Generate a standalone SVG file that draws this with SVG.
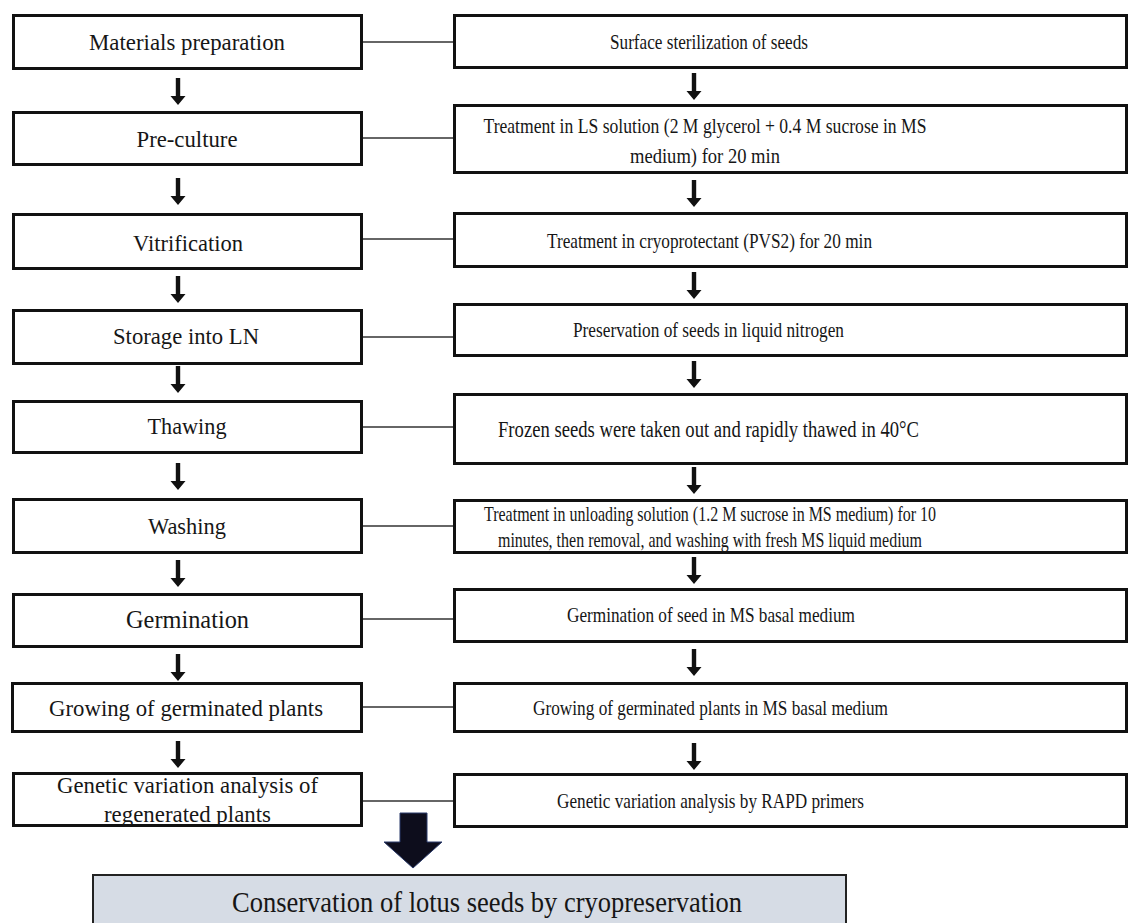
<svg xmlns="http://www.w3.org/2000/svg" width="1131" height="923" viewBox="0 0 1131 923">
<style>
.box{fill:#fff;stroke:#111;stroke-width:3}
.t{font-family:'Liberation Serif','Times New Roman',serif;font-size:22px;fill:#161616;text-anchor:middle}
.l{font-size:23px}
.g{font-size:24.5px}
.f{font-size:24px}
.c{font-size:29px}
.link{stroke:#333;stroke-width:1.3;fill:none}
.arr{fill:#111}
</style>
<defs>
<path id="arrow" d="M-2.2,0 H2.2 V18 H7.5 L0,27 L-7.5,18 H-2.2 Z"/>
</defs>
<rect width="1131" height="923" fill="#fff"/>
<g id="connectors">
<line class="link" x1="363" y1="42" x2="453" y2="42"/>
<line class="link" x1="363" y1="138" x2="453" y2="138"/>
<line class="link" x1="363" y1="239" x2="453" y2="239"/>
<line class="link" x1="363" y1="337" x2="453" y2="337"/>
<line class="link" x1="363" y1="427" x2="453" y2="427"/>
<line class="link" x1="363" y1="526" x2="453" y2="526"/>
<line class="link" x1="363" y1="619" x2="453" y2="619"/>
<line class="link" x1="363" y1="707" x2="453" y2="707"/>
<line class="link" x1="363" y1="801" x2="453" y2="801"/>
<g class="arr">
<use href="#arrow" x="178" y="78"/>
<use href="#arrow" x="178" y="178"/>
<use href="#arrow" x="178" y="276"/>
<use href="#arrow" x="178" y="366"/>
<use href="#arrow" x="178" y="463"/>
<use href="#arrow" x="178" y="560"/>
<use href="#arrow" x="178" y="654"/>
<use href="#arrow" x="178" y="741"/>
<use href="#arrow" x="694" y="73"/>
<use href="#arrow" x="694" y="180"/>
<use href="#arrow" x="694" y="272"/>
<use href="#arrow" x="694" y="361"/>
<use href="#arrow" x="694" y="467"/>
<use href="#arrow" x="694" y="557"/>
<use href="#arrow" x="694" y="649"/>
<use href="#arrow" x="694" y="743"/>
</g>
<path d="M400,813 H427 V842 H442 L413,868 L384,842 H400 Z" fill="#0d0d1c" stroke="#2a3a6a" stroke-width="1"/>
</g>
<g id="n_materials"><rect class="box" x="13.5" y="15.5" width="348" height="53"/><text class="t l" x="187" y="50" textLength="196" lengthAdjust="spacingAndGlyphs">Materials preparation</text></g>
<g id="n_preculture"><rect class="box" x="13.5" y="112.5" width="348" height="52"/><text class="t l" x="187" y="147" textLength="101" lengthAdjust="spacingAndGlyphs">Pre-culture</text></g>
<g id="n_vitrification"><rect class="box" x="13.5" y="214.5" width="348" height="54"/><text class="t l" x="188" y="251" textLength="110" lengthAdjust="spacingAndGlyphs">Vitrification</text></g>
<g id="n_storage"><rect class="box" x="13.5" y="310.5" width="348" height="53"/><text class="t l" x="186" y="344" textLength="146" lengthAdjust="spacingAndGlyphs">Storage into LN</text></g>
<g id="n_thawing"><rect class="box" x="13.5" y="401.5" width="348" height="51"/><text class="t l" x="187" y="434" textLength="79" lengthAdjust="spacingAndGlyphs">Thawing</text></g>
<g id="n_washing"><rect class="box" x="13.5" y="499.5" width="348" height="53"/><text class="t l" x="187" y="534" textLength="78" lengthAdjust="spacingAndGlyphs">Washing</text></g>
<g id="n_germination"><rect class="box" x="13.5" y="594.5" width="348" height="52"/><text class="t g" x="187.5" y="628" textLength="123" lengthAdjust="spacingAndGlyphs">Germination</text></g>
<g id="n_growing"><rect class="box" x="12.5" y="683.5" width="349" height="48"/><text class="t l" x="186" y="716" textLength="274" lengthAdjust="spacingAndGlyphs">Growing of germinated plants</text></g>
<g id="n_genetic"><rect class="box" x="13.5" y="773.5" width="348" height="52"/><text class="t l" x="187.5" y="793" textLength="261" lengthAdjust="spacingAndGlyphs">Genetic variation analysis of</text><text class="t l" x="187.5" y="822" textLength="167" lengthAdjust="spacingAndGlyphs">regenerated plants</text></g>
<g id="r_surface"><rect class="box" x="454.5" y="15.5" width="672" height="52"/><text class="t" x="709" y="49" textLength="198" lengthAdjust="spacingAndGlyphs">Surface sterilization of seeds</text></g>
<g id="r_ls"><rect class="box" x="454.5" y="105.5" width="672" height="67"/><text class="t" x="705" y="133" textLength="443" lengthAdjust="spacingAndGlyphs">Treatment in LS solution (2 M glycerol + 0.4 M sucrose in MS</text><text class="t" x="705" y="163" textLength="150" lengthAdjust="spacingAndGlyphs">medium) for 20 min</text></g>
<g id="r_pvs2"><rect class="box" x="454.5" y="213.5" width="672" height="53"/><text class="t" x="709.5" y="248" textLength="325" lengthAdjust="spacingAndGlyphs">Treatment in cryoprotectant (PVS2) for 20 min</text></g>
<g id="r_ln"><rect class="box" x="454.5" y="304.5" width="672" height="51"/><text class="t" x="708.5" y="337" textLength="271" lengthAdjust="spacingAndGlyphs">Preservation of seeds in liquid nitrogen</text></g>
<g id="r_frozen"><rect class="box" x="454.5" y="394.5" width="672" height="69"/><text class="t f" x="708.5" y="437" textLength="421" lengthAdjust="spacingAndGlyphs">Frozen seeds were taken out and rapidly thawed in 40°C</text></g>
<g id="r_unloading"><rect class="box" x="454.5" y="500.5" width="672" height="52"/><text class="t" x="710" y="521" textLength="452" lengthAdjust="spacingAndGlyphs">Treatment in unloading solution (1.2 M sucrose in MS medium) for 10</text><text class="t" x="710" y="547" textLength="424" lengthAdjust="spacingAndGlyphs">minutes, then removal, and washing with fresh MS liquid medium</text></g>
<g id="r_germ"><rect class="box" x="454.5" y="589.5" width="672" height="52"/><text class="t" x="711" y="622" textLength="288" lengthAdjust="spacingAndGlyphs">Germination of seed in MS basal medium</text></g>
<g id="r_grow"><rect class="box" x="454.5" y="683.5" width="672" height="48"/><text class="t" x="710.5" y="715" textLength="355" lengthAdjust="spacingAndGlyphs">Growing of germinated plants in MS basal medium</text></g>
<g id="r_rapd"><rect class="box" x="454.5" y="774.5" width="672" height="52"/><text class="t" x="710.5" y="808" textLength="307" lengthAdjust="spacingAndGlyphs">Genetic variation analysis by RAPD primers</text></g>
<g id="n_conservation"><rect x="93" y="875" width="753" height="60" fill="#d6dce5" stroke="#222" stroke-width="2"/><text class="t c" x="487" y="912" textLength="510" lengthAdjust="spacingAndGlyphs">Conservation of lotus seeds by cryopreservation</text></g>
</svg>
